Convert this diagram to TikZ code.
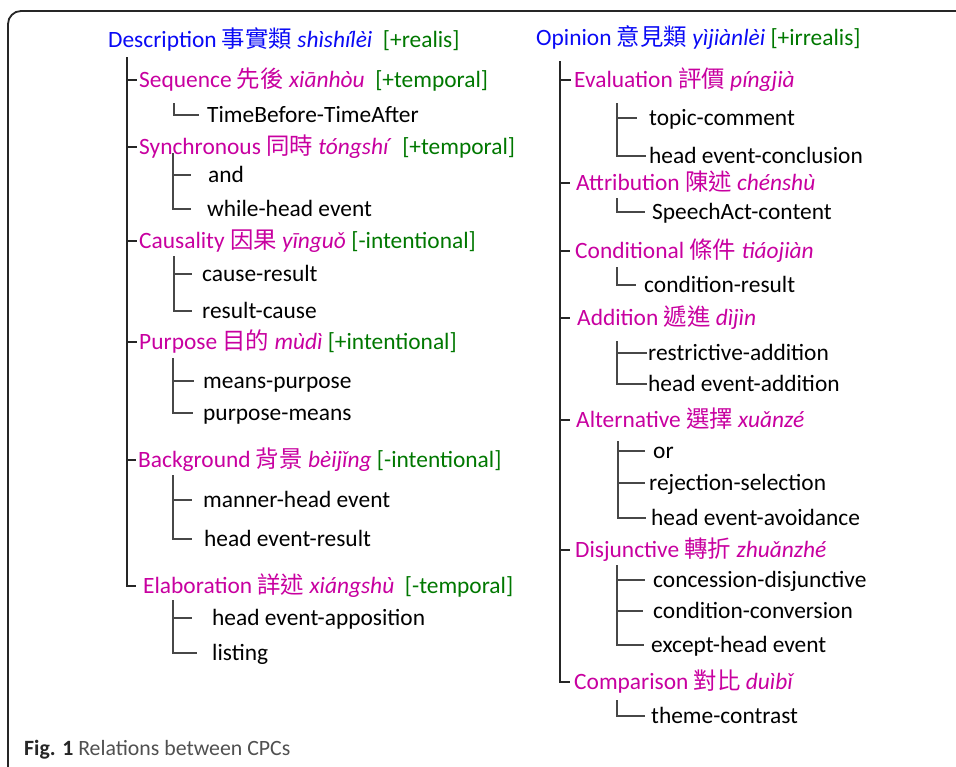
\documentclass[tikz,border=0pt]{standalone}
\usepackage{fontspec}
\setmainfont{Carlito}
\newfontfamily\cjk{Noto Sans CJK TC}
\definecolor{hblue}{RGB}{10,10,245}
\definecolor{hmag}{RGB}{200,0,160}
\definecolor{hgreen}{RGB}{0,120,0}
\definecolor{capgray}{RGB}{80,80,80}
\newcommand{\zh}[1]{{\cjk #1}}
\begin{document}
\begin{tikzpicture}[x=1pt,y=-1pt,
  every node/.style={inner sep=0pt,anchor=west,font=\fontsize{23.4}{27}\selectfont,text height=15.8pt,text depth=0pt},
  headA/.style={text=hblue},
  relA/.style={text=hmag},
  leaf/.style={text=black},
  mainln/.style={draw=black!85,line width=1.3pt},
  subln/.style={draw=black!72,line width=1.2pt},
  tag/.style={text=hgreen}]
\useasboundingbox (0,0) rectangle (956,766);
\clip (0,0) rectangle (956,766);
\fill[white] (0,0) rectangle (956,766);
% frame
\coordinate (fb) at (8,800);
\coordinate (fr) at (990,11);
\draw[black!85,line width=1.8pt,rounded corners=13pt] (fb) -- (8,11) -- (fr);

% ---------------- left column ----------------
\node[headA] (desc) at (108,40) {Description \zh{事實類} \textit{shìshílèi}\ \ \textcolor{hgreen}{[+realis]}};
\node[relA] (seq) at (139,80) {Sequence \zh{先後} \textit{xiānhòu}\ \ \textcolor{hgreen}{[+temporal]}};
\node[leaf] (tba) at (207,115) {TimeBefore-TimeAfter};
\node[relA] (syn) at (139,147) {Synchronous \zh{同時} \textit{tóngshí}\ \ \textcolor{hgreen}{[+temporal]}};
\node[leaf] (and) at (208,175) {and};
\node[leaf] (whl) at (207,209) {while-head event};
\node[relA] (cau) at (139,241) {Causality \zh{因果} \textit{yīnguǒ} \textcolor{hgreen}{[-intentional]}};
\node[leaf] (cr) at (202,274) {cause-result};
\node[leaf] (rc) at (202,311) {result-cause};
\node[relA] (pur) at (139,342) {Purpose \zh{目的} \textit{mùdì} \textcolor{hgreen}{[+intentional]}};
\node[leaf] (mp) at (203,381) {means-purpose};
\node[leaf] (pm) at (203,413) {purpose-means};
\node[relA] (bg) at (138,460) {Background \zh{背景} \textit{bèijǐng} \textcolor{hgreen}{[-intentional]}};
\node[leaf] (mhe) at (203,500) {manner-head event};
\node[leaf] (her) at (204,539) {head event-result};
\node[relA] (ela) at (143,586) {Elaboration \zh{詳述} \textit{xiángshù}\ \ \textcolor{hgreen}{[-temporal]}};
\node[leaf] (hea) at (212,618) {head event-apposition};
\node[leaf] (lis) at (212,653) {listing};

\coordinate (L0) at (127,57);
\draw[mainln] (L0) |- ([xshift=-2]seq.west);
\draw[mainln] (L0) |- ([xshift=-2]syn.west);
\draw[mainln] (L0) |- ([xshift=-2]cau.west);
\draw[mainln] (L0) |- ([xshift=-2]pur.west);
\draw[mainln] (L0) |- ([xshift=-2]bg.west);
\draw[mainln] (L0) |- ([xshift=-7]ela.west);

\coordinate (s1) at (174,103);
\draw[subln] (s1) |- ([xshift=-8]tba.west);
\coordinate (s2) at (173,153);
\draw[subln] (s2) |- ([xshift=-17]and.west);
\draw[subln] (s2) |- ([xshift=-16]whl.west);
\coordinate (s3) at (174,256);
\draw[subln] (s3) |- ([xshift=-10]cr.west);
\draw[subln] (s3) |- ([xshift=-10]rc.west);
\coordinate (s4) at (173,358);
\draw[subln] (s4) |- ([xshift=-9]mp.west);
\draw[subln] (s4) |- ([xshift=-10]pm.west);
\coordinate (s5) at (173,475);
\draw[subln] (s5) |- ([xshift=-11]mhe.west);
\draw[subln] (s5) |- ([xshift=-12]her.west);
\coordinate (s6) at (173,600);
\draw[subln] (s6) |- ([xshift=-20]hea.west);
\draw[subln] (s6) |- ([xshift=-15]lis.west);

% ---------------- right column ----------------
\node[headA] (opi) at (536,38) {Opinion \zh{意見類} \textit{yìjiànlèi} \textcolor{hgreen}{[+irrealis]}};
\node[relA] (eva) at (574,80) {Evaluation \zh{評價} \textit{píngjià}};
\node[leaf] (tc) at (649,118) {topic-comment};
\node[leaf] (hec) at (649,156) {head event-conclusion};
\node[relA] (att) at (576,183) {Attribution \zh{陳述} \textit{chénshù}};
\node[leaf] (sac) at (652,212) {SpeechAct-content};
\node[relA] (con) at (575,251) {Conditional \zh{條件} \textit{tiáojiàn}};
\node[leaf] (cnr) at (644,285) {condition-result};
\node[relA] (add) at (577,318) {Addition \zh{遞進} \textit{dìjìn}};
\node[leaf] (ra) at (648,353) {restrictive-addition};
\node[leaf] (hed) at (648,384) {head event-addition};
\node[relA] (alt) at (576,420) {Alternative \zh{選擇} \textit{xuǎnzé}};
\node[leaf] (orr) at (653,451) {or};
\node[leaf] (rs) at (649,483) {rejection-selection};
\node[leaf] (hev) at (651,518) {head event-avoidance};
\node[relA] (dis) at (575,550) {Disjunctive \zh{轉折} \textit{zhuǎnzhé}};
\node[leaf] (cd) at (653,580) {concession-disjunctive};
\node[leaf] (cc) at (653,611) {condition-conversion};
\node[leaf] (ehe) at (651,645) {except-head event};
\node[relA] (cmp) at (574,682) {Comparison \zh{對比} \textit{duìbǐ}};
\node[leaf] (thc) at (651,716) {theme-contrast};

\coordinate (R0) at (560,61);
\draw[mainln] (R0) |- ([xshift=-3]eva.west);
\draw[mainln] (R0) |- ([xshift=-6]att.west);
\draw[mainln] (R0) |- ([xshift=-5]con.west);
\draw[mainln] (R0) |- ([xshift=-7]add.west);
\draw[mainln] (R0) |- ([xshift=-6]alt.west);
\draw[mainln] (R0) |- ([xshift=-5]dis.west);
\draw[mainln] (R0) |- ([xshift=-4]cmp.west);

\coordinate (r1) at (617,103);
\draw[subln] (r1) |- ([xshift=-12]tc.west);
\draw[subln] (r1) |- ([xshift=-3]hec.west);
\coordinate (r2) at (617,198);
\draw[subln] (r2) |- ([xshift=-7]sac.west);
\coordinate (r3) at (617,267);
\draw[subln] (r3) |- ([xshift=-8]cnr.west);
\coordinate (r4) at (617,341);
\draw[subln] (r4) |- ([xshift=-1]ra.west);
\draw[subln] (r4) |- ([xshift=-1]hed.west);
\coordinate (r5) at (618,441);
\draw[subln] (r5) |- ([xshift=-8]orr.west);
\draw[subln] (r5) |- ([xshift=-4]rs.west);
\draw[subln] (r5) |- ([xshift=-5]hev.west);
\coordinate (r6) at (617,565);
\draw[subln] (r6) |- ([xshift=-8]cd.west);
\draw[subln] (r6) |- ([xshift=-10]cc.west);
\draw[subln] (r6) |- ([xshift=-7]ehe.west);
\coordinate (r7) at (617,700);
\draw[subln] (r7) |- ([xshift=-6]thc.west);

% caption
\node[font=\fontsize{21.8}{25}\selectfont,text height=14pt] (cap) at (24,748) {\textbf{\textcolor{black!85}{Fig. 1}} \textcolor{capgray}{Relations between CPCs}};
\end{tikzpicture}
\end{document}
